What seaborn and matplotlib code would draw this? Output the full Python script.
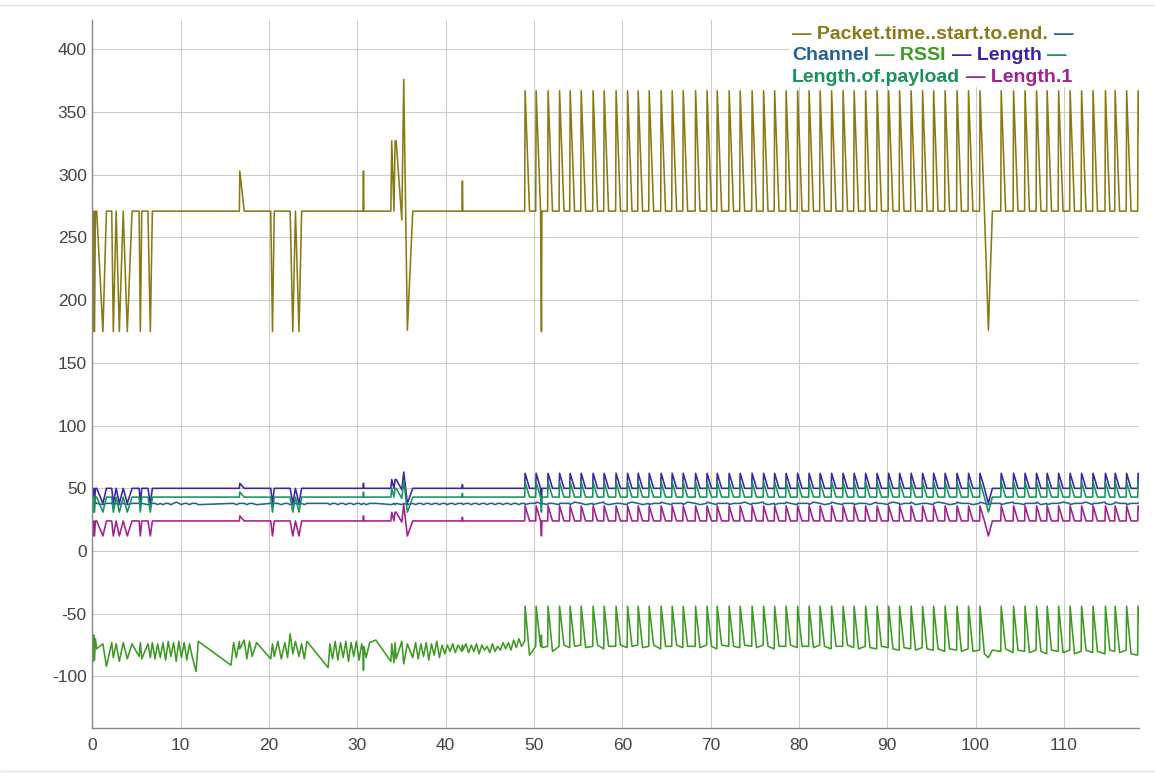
import matplotlib
matplotlib.use("Agg")
import matplotlib.pyplot as plt
from matplotlib.lines import Line2D
from matplotlib.patches import Rectangle
import seaborn as sns
import pandas as pd

# ---------------- data ----------------
series_names = ["Packet.time..start.to.end.", "Channel", "RSSI", "Length",
                "Length.of.payload", "Length.1"]
colors = ["#8a7a16", "#21609b", "#3d9a22", "#3d22a6", "#18915f", "#a0208f"]
x_ticks = [0, 10, 20, 30, 40, 50, 60, 70, 80, 90, 100, 110]
y_ticks = [-100, -50, 0, 50, 100, 150, 200, 250, 300, 350, 400]

# segment A: start (0 - 7)
time_a = [0.00, 0.08, 0.15, 0.25, 0.35, 0.50, 1.20, 1.60, 2.20, 2.38,
          2.70, 3.06, 3.50, 3.96, 4.50, 5.30, 5.44, 5.60, 6.30, 6.57,
          6.80]
packet_a = [271, 175, 271, 175, 271, 271, 175, 271, 271, 175,
            271, 175, 271, 175, 271, 271, 175, 271, 271, 175,
            271]
channel_a = [38, 37, 39, 37, 39, 38, 37, 38, 38, 37,
             38, 37, 38, 37, 38, 38, 37, 38, 37, 37,
             38]
rssi_a = [-65, -88, -67, -87, -70, -78, -74, -92, -73, -85,
          -74, -88, -73, -86, -74, -84, -73, -86, -74, -85,
          -73]
length_a = [50, 38, 50, 38, 50, 50, 38, 50, 50, 38,
            50, 38, 50, 38, 50, 50, 38, 50, 50, 38,
            50]
payload_a = [43, 31, 43, 31, 43, 43, 31, 43, 43, 31,
             43, 31, 43, 31, 43, 43, 31, 43, 43, 31,
             43]
length1_a = [24, 12, 24, 12, 24, 24, 12, 24, 24, 12,
             24, 12, 24, 12, 24, 24, 12, 24, 24, 12,
             24]

# segment B: middle (7 - 49)
time_b = [7.10, 7.40, 7.70, 8.00, 8.30, 8.60, 8.90, 9.20, 9.50, 9.80,
          10.10, 10.40, 10.70, 11.00, 11.30, 11.75, 12.00, 15.70, 16.00, 16.30,
          16.65, 16.70, 17.20, 17.50, 17.80, 18.10, 18.60, 20.20, 20.40, 20.60,
          21.00, 21.40, 21.80, 22.10, 22.40, 22.70, 23.00, 23.40, 23.70, 24.00,
          24.30, 26.70, 26.90, 27.20, 27.50, 27.80, 28.10, 28.40, 28.70, 29.00,
          29.30, 29.60, 29.90, 30.20, 30.50, 30.65, 30.70, 30.75, 31.00, 31.40,
          32.10, 33.80, 33.90, 34.15, 34.28, 34.40, 35.04, 35.26, 35.67, 36.28,
          36.60, 36.90, 37.20, 37.50, 37.80, 38.10, 38.40, 38.70, 39.00, 39.30,
          39.60, 39.90, 40.20, 40.50, 40.80, 41.10, 41.40, 41.85, 41.90, 41.95,
          42.30, 42.60, 42.90, 43.20, 43.50, 43.80, 44.10, 44.40, 44.70, 45.00,
          45.30, 45.60, 45.90, 46.20, 46.50, 46.80, 47.10, 47.40, 47.70, 48.00,
          48.30, 48.60]
packet_b = [271, 271, 271, 271, 271, 271, 271, 271, 271, 271,
            271, 271, 271, 271, 271, 271, 271, 271, 271, 271,
            271, 303, 271, 271, 271, 271, 271, 271, 175, 271,
            271, 271, 271, 271, 271, 175, 271, 175, 271, 271,
            271, 271, 271, 271, 271, 271, 271, 271, 271, 271,
            271, 271, 271, 271, 271, 271, 303, 271, 271, 271,
            271, 271, 327, 271, 327, 327, 264, 376, 176, 271,
            271, 271, 271, 271, 271, 271, 271, 271, 271, 271,
            271, 271, 271, 271, 271, 271, 271, 271, 295, 271,
            271, 271, 271, 271, 271, 271, 271, 271, 271, 271,
            271, 271, 271, 271, 271, 271, 271, 271, 271, 271,
            271, 271]
channel_b = [38, 37, 38, 37, 38, 38, 37, 38, 39, 38,
             37, 38, 38, 37, 38, 38, 37, 38, 38, 37,
             38, 38, 38, 37, 38, 38, 37, 38, 37, 38,
             38, 37, 38, 38, 37, 37, 38, 37, 38, 37,
             38, 38, 37, 38, 38, 37, 38, 38, 37, 38,
             38, 37, 38, 38, 37, 38, 38, 38, 37, 38,
             38, 37, 37, 38, 37, 38, 37, 38, 37, 38,
             37, 38, 38, 37, 38, 38, 37, 38, 38, 37,
             38, 38, 37, 38, 38, 37, 38, 38, 38, 37,
             38, 38, 37, 38, 38, 37, 38, 38, 37, 38,
             38, 37, 38, 38, 37, 38, 38, 37, 38, 38,
             37, 38]
rssi_b = [-86, -74, -85, -73, -87, -72, -84, -73, -88, -72,
          -85, -73, -87, -74, -84, -96, -72, -91, -73, -85,
          -72, -78, -71, -86, -72, -84, -73, -86, -74, -84,
          -72, -86, -73, -85, -66, -82, -72, -84, -74, -86,
          -72, -93, -74, -86, -72, -87, -73, -85, -72, -88,
          -73, -84, -72, -87, -74, -80, -95, -76, -85, -73,
          -71, -88, -74, -89, -73, -86, -72, -90, -74, -85,
          -73, -86, -74, -84, -73, -87, -74, -83, -72, -85,
          -75, -82, -75, -80, -74, -81, -75, -80, -75, -79,
          -74, -81, -75, -80, -74, -82, -75, -79, -76, -81,
          -74, -80, -76, -79, -73, -78, -73, -79, -71, -77,
          -70, -76]
length_b = [50, 50, 50, 50, 50, 50, 50, 50, 50, 50,
            50, 50, 50, 50, 50, 50, 50, 50, 50, 50,
            50, 54, 50, 50, 50, 50, 50, 50, 38, 50,
            50, 50, 50, 50, 50, 38, 50, 38, 50, 50,
            50, 50, 50, 50, 50, 50, 50, 50, 50, 50,
            50, 50, 50, 50, 50, 50, 54, 50, 50, 50,
            50, 50, 57, 50, 57, 57, 49, 63, 38, 50,
            50, 50, 50, 50, 50, 50, 50, 50, 50, 50,
            50, 50, 50, 50, 50, 50, 50, 50, 53, 50,
            50, 50, 50, 50, 50, 50, 50, 50, 50, 50,
            50, 50, 50, 50, 50, 50, 50, 50, 50, 50,
            50, 50]
payload_b = [43, 43, 43, 43, 43, 43, 43, 43, 43, 43,
             43, 43, 43, 43, 43, 43, 43, 43, 43, 43,
             43, 47, 43, 43, 43, 43, 43, 43, 31, 43,
             43, 43, 43, 43, 43, 31, 43, 31, 43, 43,
             43, 43, 43, 43, 43, 43, 43, 43, 43, 43,
             43, 43, 43, 43, 43, 43, 47, 43, 43, 43,
             43, 43, 50, 43, 50, 50, 42, 56, 31, 43,
             43, 43, 43, 43, 43, 43, 43, 43, 43, 43,
             43, 43, 43, 43, 43, 43, 43, 43, 46, 43,
             43, 43, 43, 43, 43, 43, 43, 43, 43, 43,
             43, 43, 43, 43, 43, 43, 43, 43, 43, 43,
             43, 43]
length1_b = [24, 24, 24, 24, 24, 24, 24, 24, 24, 24,
             24, 24, 24, 24, 24, 24, 24, 24, 24, 24,
             24, 28, 24, 24, 24, 24, 24, 24, 12, 24,
             24, 24, 24, 24, 24, 12, 24, 12, 24, 24,
             24, 24, 24, 24, 24, 24, 24, 24, 24, 24,
             24, 24, 24, 24, 24, 24, 28, 24, 24, 24,
             24, 24, 31, 24, 31, 31, 23, 37, 12, 24,
             24, 24, 24, 24, 24, 24, 24, 24, 24, 24,
             24, 24, 24, 24, 24, 24, 24, 24, 27, 24,
             24, 24, 24, 24, 24, 24, 24, 24, 24, 24,
             24, 24, 24, 24, 24, 24, 24, 24, 24, 24,
             24, 24]

# segment C: periodic part (49 - 119)
time_c = [48.95, 49.00, 49.50, 50.20, 50.25, 50.75, 50.85, 50.90, 51.55, 51.60, 52.10,
          52.85, 52.90, 53.40, 54.05, 54.10, 54.60, 55.30, 55.35, 55.85,
          56.65, 56.70, 57.20, 57.90, 57.95, 58.45, 59.25, 59.30, 59.80,
          60.55, 60.60, 61.10, 61.75, 61.80, 62.30, 63.00, 63.05, 63.55,
          64.35, 64.40, 64.90, 65.60, 65.65, 66.15, 66.85, 66.90, 67.40,
          68.25, 68.30, 68.80, 69.55, 69.60, 70.10, 70.70, 70.75, 71.25,
          72.05, 72.10, 72.60, 73.30, 73.35, 73.85, 74.65, 74.70, 75.20,
          75.95, 76.00, 76.50, 77.20, 77.25, 77.75, 78.50, 78.55, 79.05,
          79.80, 79.85, 80.35, 81.10, 81.15, 81.65, 82.35, 82.40, 82.90,
          83.65, 83.70, 84.20, 84.95, 85.00, 85.50, 86.20, 86.25, 86.75,
          87.50, 87.55, 88.05, 88.80, 88.85, 89.35, 90.10, 90.15, 90.65,
          91.35, 91.40, 91.90, 92.65, 92.70, 93.20, 93.95, 94.00, 94.50,
          95.20, 95.25, 95.75, 96.50, 96.55, 97.05, 97.85, 97.90, 98.40,
          99.15, 99.20, 99.70, 100.45, 100.50, 101.00, 101.45, 101.90, 102.85, 102.90, 103.40,
          104.25, 104.30, 104.80, 105.55, 105.60, 106.10, 106.85, 106.90, 107.40,
          108.05, 108.10, 108.60, 109.35, 109.40, 109.90, 110.65, 110.70, 111.20,
          111.95, 112.00, 112.50, 113.25, 113.30, 113.80, 114.65, 114.70, 115.20,
          115.75, 115.80, 116.30, 117.05, 117.10, 117.60, 118.35, 118.40, 118.90]
packet_c = [271, 367, 271, 271, 367, 271, 175, 271, 271, 367, 271,
            271, 367, 271, 271, 367, 271, 271, 367, 271,
            271, 367, 271, 271, 367, 271, 271, 367, 271,
            271, 367, 271, 271, 367, 271, 271, 367, 271,
            271, 367, 271, 271, 367, 271, 271, 367, 271,
            271, 367, 271, 271, 367, 271, 271, 367, 271,
            271, 367, 271, 271, 367, 271, 271, 367, 271,
            271, 367, 271, 271, 367, 271, 271, 367, 271,
            271, 367, 271, 271, 367, 271, 271, 367, 271,
            271, 367, 271, 271, 367, 271, 271, 367, 271,
            271, 367, 271, 271, 367, 271, 271, 367, 271,
            271, 367, 271, 271, 367, 271, 271, 367, 271,
            271, 367, 271, 271, 367, 271, 271, 367, 271,
            271, 367, 271, 271, 367, 271, 176, 271, 271, 367, 271,
            271, 367, 271, 271, 367, 271, 271, 367, 271,
            271, 367, 271, 271, 367, 271, 271, 367, 271,
            271, 367, 271, 271, 367, 271, 271, 367, 271,
            271, 367, 271, 271, 367, 271, 271, 367, 271]
channel_c = [38, 37, 38, 38, 39, 38, 37, 38, 37, 38, 38,
             37, 38, 38, 38, 37, 39, 38, 38, 37,
             38, 37, 38, 39, 38, 37, 38, 38, 38,
             37, 38, 39, 38, 38, 37, 38, 37, 38,
             38, 39, 38, 37, 38, 38, 38, 37, 39,
             38, 38, 37, 38, 39, 38, 37, 38, 38,
             38, 37, 38, 38, 38, 39, 37, 38, 38,
             39, 38, 37, 38, 37, 38, 38, 39, 38,
             37, 38, 38, 38, 37, 39, 38, 38, 37,
             38, 39, 38, 37, 38, 38, 38, 37, 38,
             38, 38, 37, 39, 38, 38, 37, 38, 39,
             38, 37, 38, 38, 39, 37, 38, 38, 38,
             37, 38, 39, 38, 38, 37, 38, 39, 38,
             38, 38, 37, 38, 39, 38, 37, 38, 38, 37, 38,
             39, 38, 38, 37, 38, 38, 38, 39, 37,
             38, 37, 38, 38, 38, 39, 38, 37, 38,
             38, 38, 39, 37, 38, 38, 39, 38, 37,
             38, 39, 38, 38, 37, 38, 38, 38, 39]
rssi_c = [-72, -44, -83, -76, -44, -76, -67, -77, -76, -44, -80,
          -76, -44, -75, -77, -44, -76, -75, -44, -77,
          -76, -44, -75, -78, -44, -76, -76, -44, -75,
          -77, -44, -76, -75, -44, -77, -76, -44, -75,
          -78, -44, -76, -76, -44, -75, -77, -44, -76,
          -76, -44, -77, -75, -44, -76, -78, -44, -75,
          -76, -44, -76, -77, -44, -75, -76, -44, -77,
          -75, -44, -76, -78, -44, -76, -76, -44, -75,
          -77, -44, -76, -76, -44, -77, -75, -44, -76,
          -78, -44, -76, -76, -44, -75, -77, -44, -78,
          -76, -44, -77, -78, -44, -76, -77, -44, -78,
          -79, -44, -77, -78, -44, -79, -77, -44, -78,
          -79, -44, -78, -80, -44, -78, -79, -44, -80,
          -78, -44, -80, -79, -44, -82, -85, -79, -80, -44, -78,
          -81, -44, -79, -80, -44, -81, -79, -44, -80,
          -82, -44, -79, -80, -44, -81, -79, -44, -82,
          -80, -44, -79, -81, -44, -80, -82, -44, -79,
          -80, -44, -81, -79, -44, -82, -83, -44, -80]
length_c = [50, 62, 50, 50, 62, 50, 38, 50, 50, 62, 50,
            50, 62, 50, 50, 62, 50, 50, 62, 50,
            50, 62, 50, 50, 62, 50, 50, 62, 50,
            50, 62, 50, 50, 62, 50, 50, 62, 50,
            50, 62, 50, 50, 62, 50, 50, 62, 50,
            50, 62, 50, 50, 62, 50, 50, 62, 50,
            50, 62, 50, 50, 62, 50, 50, 62, 50,
            50, 62, 50, 50, 62, 50, 50, 62, 50,
            50, 62, 50, 50, 62, 50, 50, 62, 50,
            50, 62, 50, 50, 62, 50, 50, 62, 50,
            50, 62, 50, 50, 62, 50, 50, 62, 50,
            50, 62, 50, 50, 62, 50, 50, 62, 50,
            50, 62, 50, 50, 62, 50, 50, 62, 50,
            50, 62, 50, 50, 62, 50, 38, 50, 50, 62, 50,
            50, 62, 50, 50, 62, 50, 50, 62, 50,
            50, 62, 50, 50, 62, 50, 50, 62, 50,
            50, 62, 50, 50, 62, 50, 50, 62, 50,
            50, 62, 50, 50, 62, 50, 50, 62, 50]
payload_c = [43, 55, 43, 43, 55, 43, 31, 43, 43, 55, 43,
             43, 55, 43, 43, 55, 43, 43, 55, 43,
             43, 55, 43, 43, 55, 43, 43, 55, 43,
             43, 55, 43, 43, 55, 43, 43, 55, 43,
             43, 55, 43, 43, 55, 43, 43, 55, 43,
             43, 55, 43, 43, 55, 43, 43, 55, 43,
             43, 55, 43, 43, 55, 43, 43, 55, 43,
             43, 55, 43, 43, 55, 43, 43, 55, 43,
             43, 55, 43, 43, 55, 43, 43, 55, 43,
             43, 55, 43, 43, 55, 43, 43, 55, 43,
             43, 55, 43, 43, 55, 43, 43, 55, 43,
             43, 55, 43, 43, 55, 43, 43, 55, 43,
             43, 55, 43, 43, 55, 43, 43, 55, 43,
             43, 55, 43, 43, 55, 43, 31, 43, 43, 55, 43,
             43, 55, 43, 43, 55, 43, 43, 55, 43,
             43, 55, 43, 43, 55, 43, 43, 55, 43,
             43, 55, 43, 43, 55, 43, 43, 55, 43,
             43, 55, 43, 43, 55, 43, 43, 55, 43]
length1_c = [24, 36, 24, 24, 36, 24, 12, 24, 24, 36, 24,
             24, 36, 24, 24, 36, 24, 24, 36, 24,
             24, 36, 24, 24, 36, 24, 24, 36, 24,
             24, 36, 24, 24, 36, 24, 24, 36, 24,
             24, 36, 24, 24, 36, 24, 24, 36, 24,
             24, 36, 24, 24, 36, 24, 24, 36, 24,
             24, 36, 24, 24, 36, 24, 24, 36, 24,
             24, 36, 24, 24, 36, 24, 24, 36, 24,
             24, 36, 24, 24, 36, 24, 24, 36, 24,
             24, 36, 24, 24, 36, 24, 24, 36, 24,
             24, 36, 24, 24, 36, 24, 24, 36, 24,
             24, 36, 24, 24, 36, 24, 24, 36, 24,
             24, 36, 24, 24, 36, 24, 24, 36, 24,
             24, 36, 24, 24, 36, 24, 12, 24, 24, 36, 24,
             24, 36, 24, 24, 36, 24, 24, 36, 24,
             24, 36, 24, 24, 36, 24, 24, 36, 24,
             24, 36, 24, 24, 36, 24, 24, 36, 24,
             24, 36, 24, 24, 36, 24, 24, 36, 24]

# ---------------- assemble ----------------
df = pd.DataFrame({
    "time": time_a + time_b + time_c,
    series_names[0]: packet_a + packet_b + packet_c,
    series_names[1]: channel_a + channel_b + channel_c,
    series_names[2]: rssi_a + rssi_b + rssi_c,
    series_names[3]: length_a + length_b + length_c,
    series_names[4]: payload_a + payload_b + payload_c,
    series_names[5]: length1_a + length1_b + length1_c,
})
long_df = df.melt(id_vars="time", var_name="series", value_name="value")

sns.set_theme(style="white")
plt.rcParams["font.family"] = ["Liberation Sans", "DejaVu Sans"]
plt.rcParams["axes.unicode_minus"] = False

W, H = 1155, 773
fig = plt.figure(figsize=(W / 100, H / 100), dpi=100)
fig.patch.set_facecolor("white")
ax = fig.add_axes([92.3 / W, 45 / H, (1139 - 92.3) / W, (728 - 20) / H])
ax.set_facecolor("white")

sns.lineplot(data=long_df, x="time", y="value", hue="series",
             hue_order=series_names, palette=colors, estimator=None,
             sort=False, linewidth=1.15, legend=False, ax=ax)

ax.set_xlim(0, 118.5)
ax.set_ylim(-141.1, 423.4)
ax.set_xticks(x_ticks)
ax.set_yticks(y_ticks)
ax.set_xlabel("")
ax.set_ylabel("")
ax.grid(True, color="#cccccc", linewidth=0.8)
ax.set_axisbelow(True)
ax.tick_params(length=0, labelsize=12.5, labelcolor="#444444")
ax.tick_params(axis="x", pad=7)
ax.tick_params(axis="y", pad=4)
for s in ["top", "right"]:
    ax.spines[s].set_visible(False)
for s in ["left", "bottom"]:
    ax.spines[s].set_color("#888888")
    ax.spines[s].set_linewidth(1.0)

# page separator lines
for yp in (5, 771):
    fig.add_artist(Line2D([0, 1], [1 - yp / H, 1 - yp / H], transform=fig.transFigure,
                          color="#e2e2e2", linewidth=1.0))

# legend background
fig.add_artist(Rectangle((790 / W, 1 - 87 / H), (1139 - 790) / W, (87 - 19) / H,
                         transform=fig.transFigure, facecolor="white",
                         edgecolor="none", zorder=2))

# flowing inline legend
fig.canvas.draw()
renderer = fig.canvas.get_renderer()
rows = [[("\u2014 " + series_names[0], 0), ("\u2014", 1)],
        [(series_names[1], 1), ("\u2014 " + series_names[2], 2),
         ("\u2014 " + series_names[3], 3), ("\u2014", 4)],
        [(series_names[4], 4), ("\u2014 " + series_names[5], 5)]]
baselines = [39, 60, 81.5]
for row, yb in zip(rows, baselines):
    xp = 792
    for txt, ci in row:
        t = fig.text(xp / W, 1 - yb / H, txt, color=colors[ci], fontsize=14,
                     fontweight="bold", ha="left", va="baseline", zorder=5)
        bb = t.get_window_extent(renderer)
        xp = bb.x1 + 6

fig.savefig("out.png", dpi=100)
